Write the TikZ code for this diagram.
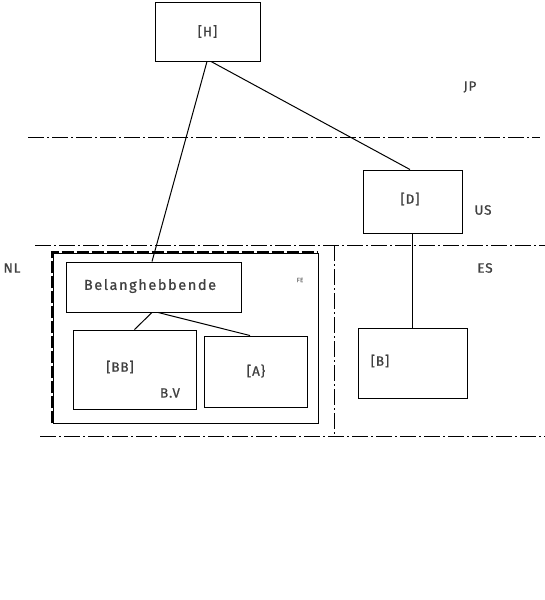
\documentclass[tikz,border=0pt]{standalone}
\usepackage{fontspec}
\setmainfont{Fira Sans}[LetterSpace=6,FakeBold=0.8]
\newfontfamily\spacedfont{Fira Sans}[LetterSpace=11,FakeBold=0.8]
\begin{document}
\begin{tikzpicture}[x=1pt,y=-1pt,
  box/.style={draw,line width=0.95pt,rectangle,inner sep=0pt},
  lbl/.style={text=black!75,font=\fontsize{13.5}{15}\selectfont,inner sep=0pt},
  zone/.style={line width=1pt,dash pattern=on 16pt off 3pt on 2pt off 3pt},
  conn/.style={line width=1pt}]
\useasboundingbox (0,0) rectangle (545,600);
% zone lines
\draw[zone] (28,137) -- (540,137);
\draw[zone] (35,245) -- (545,245);
\draw[zone] (40,436) -- (545,436);
\draw[zone] (334,245) -- (334,436);
% FE outer box
\node[box,minimum width=265pt,minimum height=170pt] (FE) at (185.5,338) {};
\draw[line width=2.6pt,dash pattern=on 12pt off 3pt] (FE.south west) -- (FE.north west) -- (FE.north east);
% boxes
\node[box,minimum width=105pt,minimum height=59pt,lbl] (H) at (207.5,31.5) {[H]};
\node[box,minimum width=99pt,minimum height=63pt] (D) at (412.5,201.5) {};
\node[lbl] (Dt) at (410,199) {[D]};
\node[box,minimum width=109pt,minimum height=70pt] (B) at (412.5,363) {};
\node[lbl] (Bt) at (380,361) {[B]};
\node[box,minimum width=175pt,minimum height=50pt] (Bel) at (153.5,287) {};
\node[lbl,font=\spacedfont\fontsize{14.5}{17}\selectfont] (Belt) at (150,286) {Belanghebbende};
\node[box,minimum width=123pt,minimum height=79pt] (BB) at (134.5,369.5) {};
\node[lbl] (BBt) at (120,367) {[BB]};
\node[lbl] (BV) at (170,393) {B.V};
\node[box,minimum width=103pt,minimum height=71pt] (A) at (255.5,371.5) {};
\node[lbl] (At) at (256,371) {[A\}};
% labels
\node[lbl] (JP) at (470,87) {JP};
\node[lbl] (US) at (483,210) {US};
\node[lbl] (ES) at (485,268) {ES};
\node[lbl] (NL) at (12,268) {NL};
\node[lbl,text=black!60,font=\fontsize{6}{7}\selectfont] (FEt) at (300,280) {FE};
% connectors
\draw[conn] ([xshift=-0.5pt]H.south) -- ([xshift=-1.5pt]Bel.north);
\draw[conn] ([xshift=3.5pt]H.south) -- ([xshift=-2.5pt]D.north);
\draw[conn] (D.south) -- (B.north);
\draw[conn] ([xshift=-1.5pt]Bel.south) -- (BB.north);
\draw[conn] ([xshift=4.5pt]Bel.south) -- ([xshift=-5.5pt]A.north);
\end{tikzpicture}
\end{document}
